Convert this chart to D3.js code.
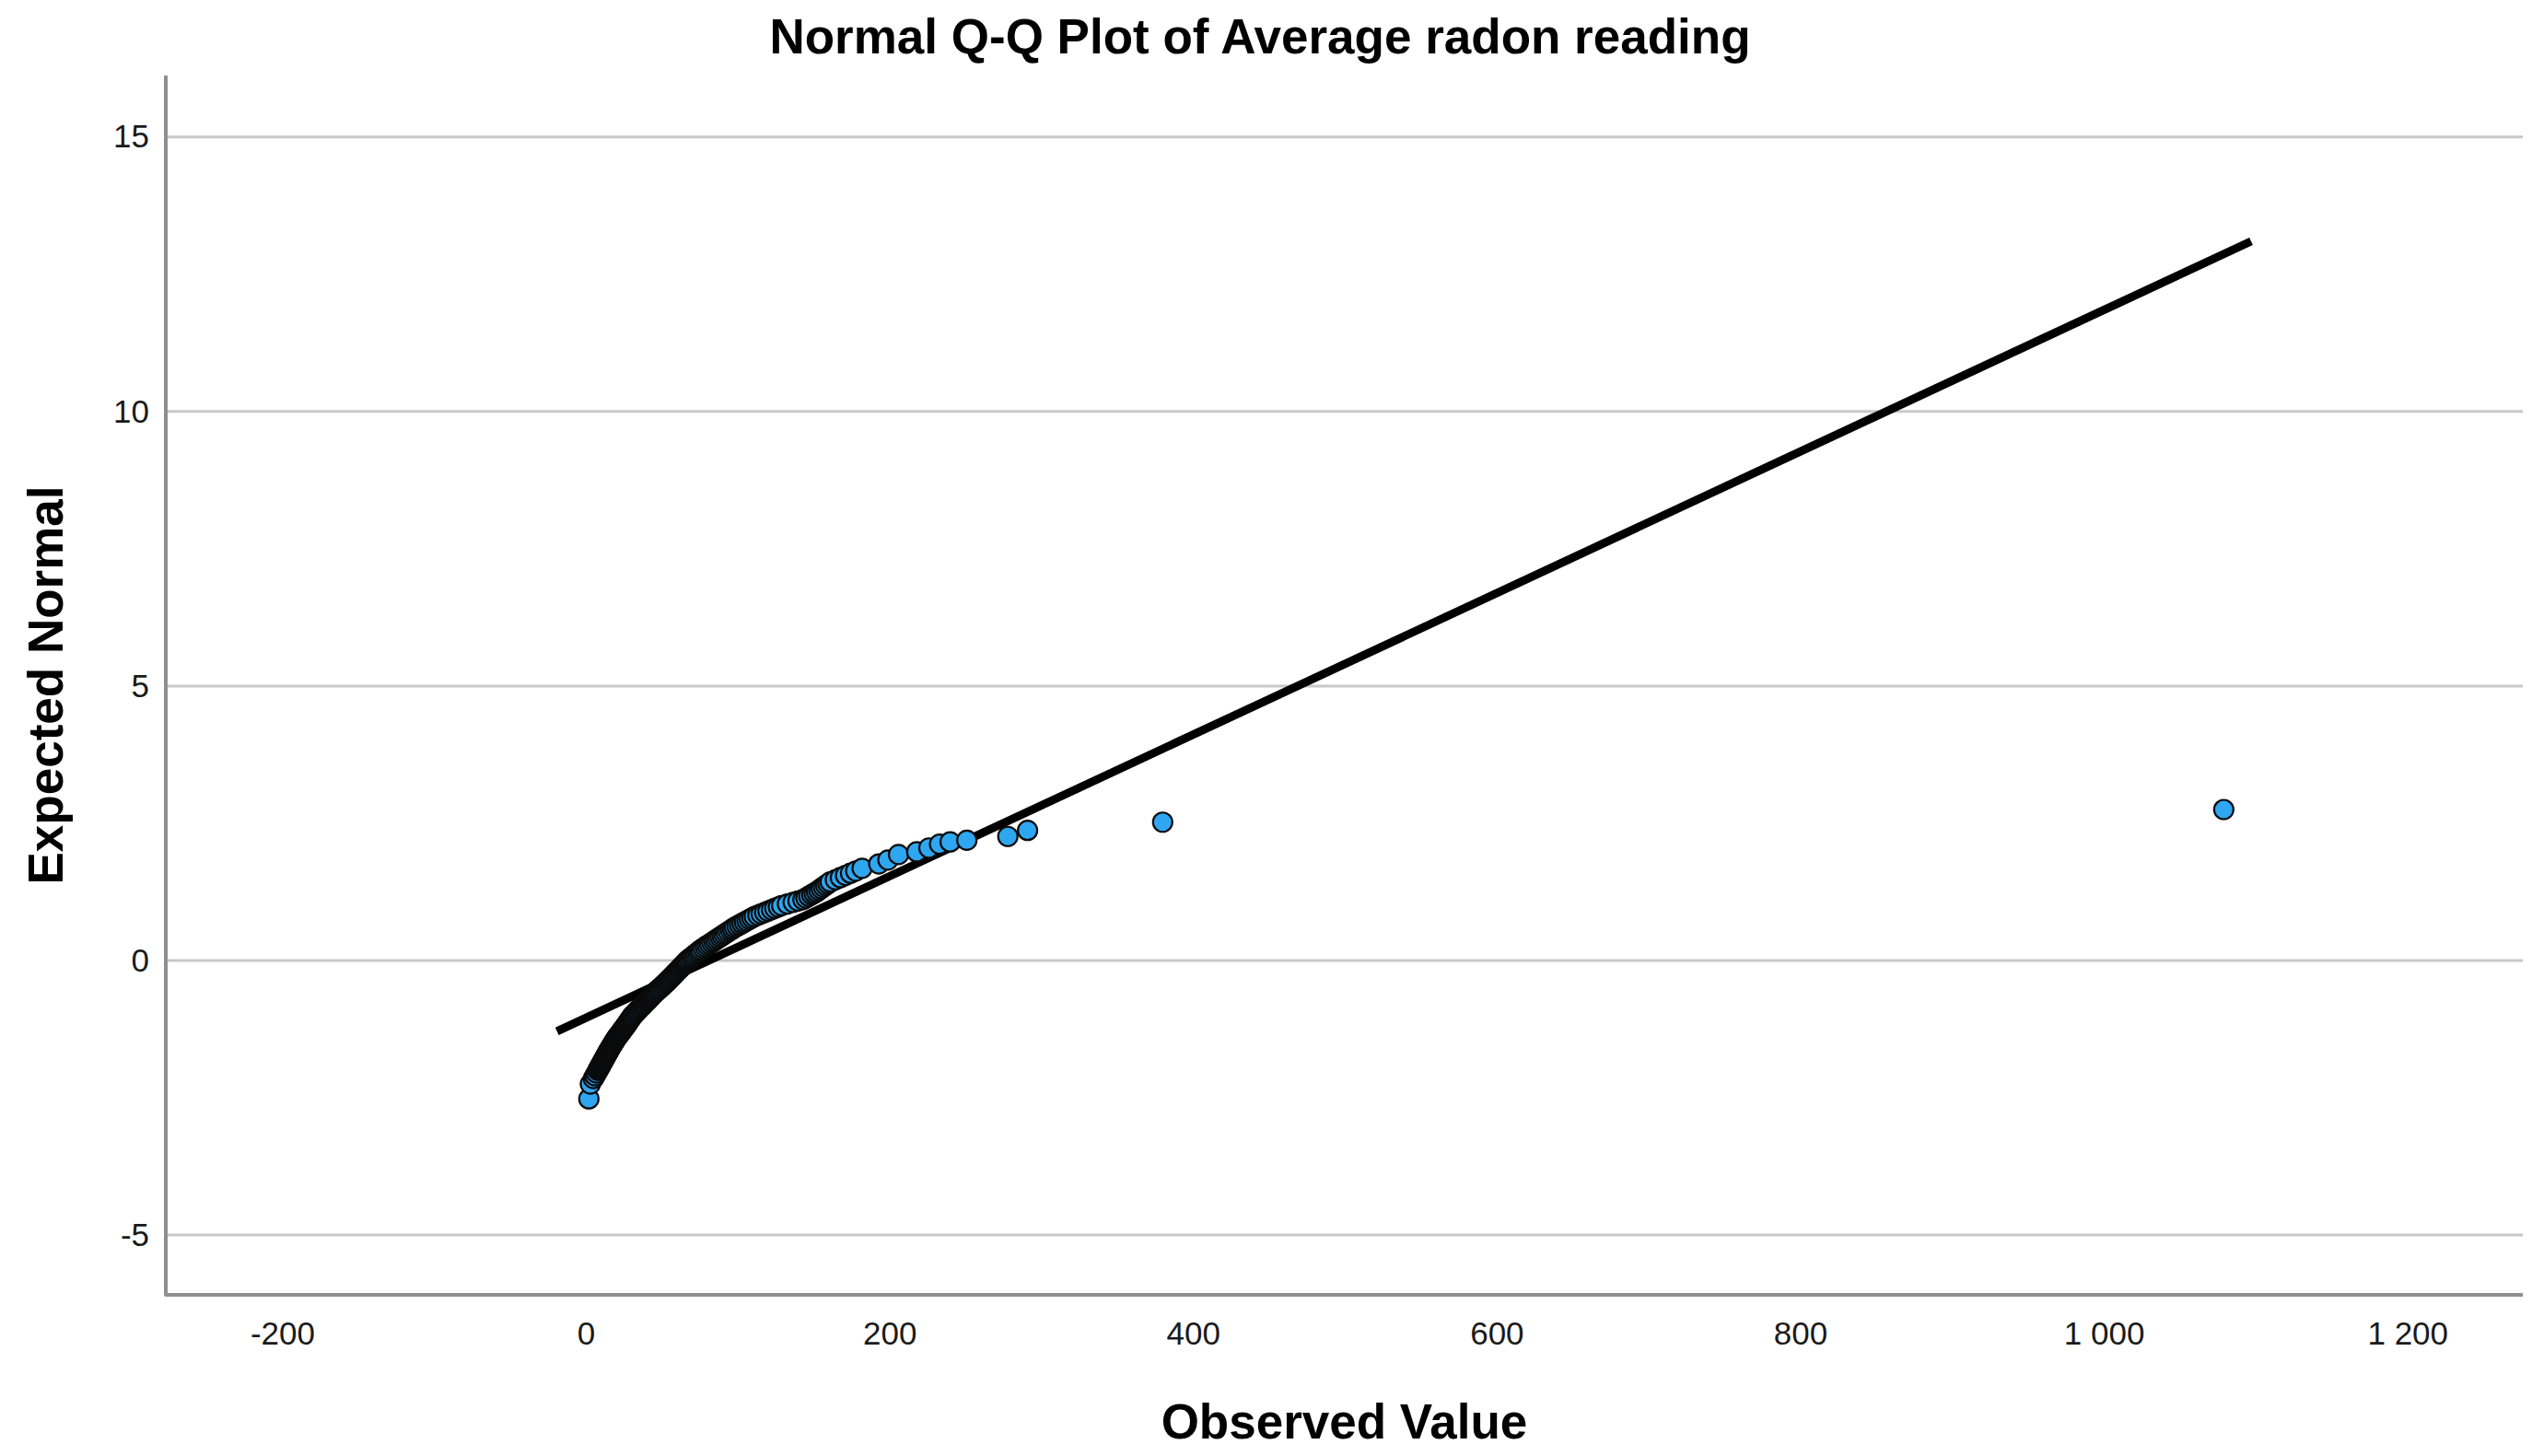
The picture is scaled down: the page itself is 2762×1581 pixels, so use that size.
<!DOCTYPE html>
<html>
<head>
<meta charset="utf-8">
<script src="https://cdn.jsdelivr.net/npm/d3@7/dist/d3.min.js"></script>
<style>
  html, body { margin: 0; padding: 0; background: #ffffff; }
  svg { display: block; }
  text { font-family: "Liberation Sans", Arial, Helvetica, sans-serif; }
</style>
</head>
<body>
<svg id="chart" width="2762" height="1581"></svg>
<script>
// ---- Data ----
const titleText = "Normal Q-Q Plot of Average radon reading";
const xLabel = "Observed Value";
const yLabel = "Expected Normal";

const xTicks = [-200, 0, 200, 400, 600, 800, 1000, 1200];
const yTicks = [-5, 0, 5, 10, 15];

const observed = [
  2, 3, 5, 6, 7,
  8, 8.5, 9, 9.5, 10, 10.5, 11, 11.5,
  12, 12.5, 13, 13.5, 14, 14.5, 15, 15.5,
  16, 16.6, 17.1, 17.7, 18.2, 18.8, 19.3, 19.9,
  20.5, 21.2, 21.9, 22.6, 23.3, 23.9, 24.6, 25.3,
  26, 26.6, 27.3, 27.9, 28.5, 29.1, 29.8, 30.4,
  31, 31.9, 32.8, 33.6, 34.5, 35.4, 36.3,
  37.2, 38.0, 38.9, 39.8, 40.7, 41.5, 42.4, 43.3, 44.1,
  45, 46, 47, 48, 49, 50, 51, 52,
  53, 53.9, 54.8, 55.6, 56.5, 57.4, 58.3, 59.1,
  60, 60.9, 61.8, 62.6, 63.5, 64.4, 65.3, 66.1,
  67, 68.1, 69.3, 70.4, 71.5, 72.6, 73.8, 74.9,
  76, 77.4, 78.8, 80.1, 81.5, 82.9, 84.3, 85.6,
  87, 88.4, 89.8, 91.1, 92.5, 93.9, 95.3, 96.6,
  98, 99.6, 101.3, 102.9, 104.5, 106.1, 107.8, 109.4,
  111, 113.3, 115.5, 117.8, 120, 122.3, 124.5, 126.8,
  129, 132.8, 136.6, 139.8, 143, 145, 146.9, 148.8, 150.4, 152,
  153.5, 155, 156.5, 158, 159.5, 161, 164.4, 167.7, 171.1, 174.4,
  177.8, 182, 193, 199, 206, 218, 226, 233, 240, 251,
  278, 291, 380, 1079
];

const expected = [
  -2.52, -2.25, -2.15, -2.1, -2.05,
  -2, -1.975, -1.95, -1.925, -1.9, -1.875, -1.85, -1.825,
  -1.8, -1.775, -1.75, -1.725, -1.7, -1.675, -1.65, -1.625,
  -1.6, -1.575, -1.55, -1.525, -1.5, -1.475, -1.45, -1.425,
  -1.4, -1.375, -1.35, -1.325, -1.3, -1.275, -1.25, -1.225,
  -1.2, -1.175, -1.15, -1.125, -1.1, -1.075, -1.05, -1.025,
  -1, -0.975, -0.95, -0.925, -0.9, -0.875, -0.85,
  -0.825, -0.8, -0.775, -0.75, -0.725, -0.7, -0.675, -0.65, -0.625,
  -0.6, -0.575, -0.55, -0.525, -0.5, -0.475, -0.45, -0.425,
  -0.4, -0.375, -0.35, -0.325, -0.3, -0.275, -0.25, -0.225,
  -0.2, -0.175, -0.15, -0.125, -0.1, -0.075, -0.05, -0.025,
  0, 0.025, 0.05, 0.075, 0.1, 0.125, 0.15, 0.175,
  0.2, 0.225, 0.25, 0.275, 0.3, 0.325, 0.35, 0.375,
  0.4, 0.425, 0.45, 0.475, 0.5, 0.525, 0.55, 0.575,
  0.6, 0.625, 0.65, 0.675, 0.7, 0.725, 0.75, 0.775,
  0.8, 0.825, 0.85, 0.875, 0.9, 0.925, 0.95, 0.975,
  1, 1.03, 1.06, 1.085, 1.11, 1.14, 1.17, 1.2, 1.225, 1.25,
  1.28, 1.31, 1.34, 1.37, 1.4, 1.43, 1.47, 1.51, 1.55, 1.59,
  1.63, 1.68, 1.76, 1.83, 1.93, 1.98, 2.05, 2.12, 2.16, 2.19,
  2.26, 2.37, 2.52, 2.75
];

// Reference (fitted normal) line end points
const fitX = [-19, 1097];
const fitY = [-1.29, 13.10];

// ---- Drawing ----
const svg = d3.select("#chart");
const W = 2762, H = 1581;
const plot = { left: 180, right: 2739, top: 82, bottom: 1406 };

svg.append("rect").attr("width", W).attr("height", H).attr("fill", "#ffffff");

const x = d3.scaleLinear().domain([-276.7, 1276]).range([plot.left, plot.right]);
const y = d3.scaleLinear().domain([-6.09, 16.12]).range([plot.bottom, plot.top]);

const loc = d3.formatLocale({ decimal: ",", thousands: " ", grouping: [3], currency: ["", ""], minus: "-" });
const fmt = loc.format(",d");

// gridlines
svg.append("g").selectAll("line").data(yTicks).join("line")
  .attr("x1", plot.left).attr("x2", plot.right)
  .attr("y1", d => y(d)).attr("y2", d => y(d))
  .attr("stroke", "#c8c8c8").attr("stroke-width", 3);

// Y axis
const yAxis = svg.append("g").attr("transform", `translate(${plot.left},0)`)
  .call(d3.axisLeft(y).tickValues(yTicks).tickFormat(fmt).tickSize(0).tickPadding(18));
yAxis.select(".domain").remove();
yAxis.selectAll("text").attr("font-size", 35).attr("fill", "#1a1a1a")
  .style("font-family", "'Liberation Sans', Arial, sans-serif");

// X axis
const xAxis = svg.append("g").attr("transform", `translate(0,${plot.bottom})`)
  .call(d3.axisBottom(x).tickValues(xTicks).tickFormat(fmt).tickSize(0).tickPadding(29));
xAxis.select(".domain").remove();
xAxis.selectAll("text").attr("font-size", 35).attr("fill", "#1a1a1a")
  .style("font-family", "'Liberation Sans', Arial, sans-serif");

// axis lines
svg.append("line").attr("x1", plot.left).attr("x2", plot.left)
  .attr("y1", plot.top).attr("y2", plot.bottom + 1)
  .attr("stroke", "#8f8f8f").attr("stroke-width", 4);
svg.append("line").attr("x1", plot.left - 1).attr("x2", plot.right)
  .attr("y1", plot.bottom).attr("y2", plot.bottom)
  .attr("stroke", "#8f8f8f").attr("stroke-width", 4);

// fitted line
const fitData = fitX.map((v, i) => [v, fitY[i]]);
svg.append("path").datum(fitData)
  .attr("d", d3.line().x(d => x(d[0])).y(d => y(d[1])))
  .attr("fill", "none").attr("stroke", "#000").attr("stroke-width", 9)
  .attr("stroke-linecap", "butt");

// points
const pts = observed.map((v, i) => [v, expected[i]]);
svg.append("g").selectAll("circle").data(pts).join("circle")
  .attr("cx", d => x(d[0])).attr("cy", d => y(d[1])).attr("r", 10.5)
  .attr("fill", "#2ea6f0").attr("stroke", "#0a0a0a").attr("stroke-width", 2.2);

// title & axis titles
svg.append("text").attr("x", 1368).attr("y", 58).attr("text-anchor", "middle")
  .attr("font-size", 53).attr("font-weight", "bold").attr("fill", "#000").text(titleText);

svg.append("text").attr("x", (plot.left + plot.right) / 2).attr("y", 1562).attr("text-anchor", "middle")
  .attr("font-size", 53).attr("font-weight", "bold").attr("fill", "#000").text(xLabel);

svg.append("text").attr("transform", `translate(68,${(plot.top + plot.bottom) / 2}) rotate(-90)`)
  .attr("text-anchor", "middle")
  .attr("font-size", 53).attr("font-weight", "bold").attr("fill", "#000").text(yLabel);
</script>
</body>
</html>
